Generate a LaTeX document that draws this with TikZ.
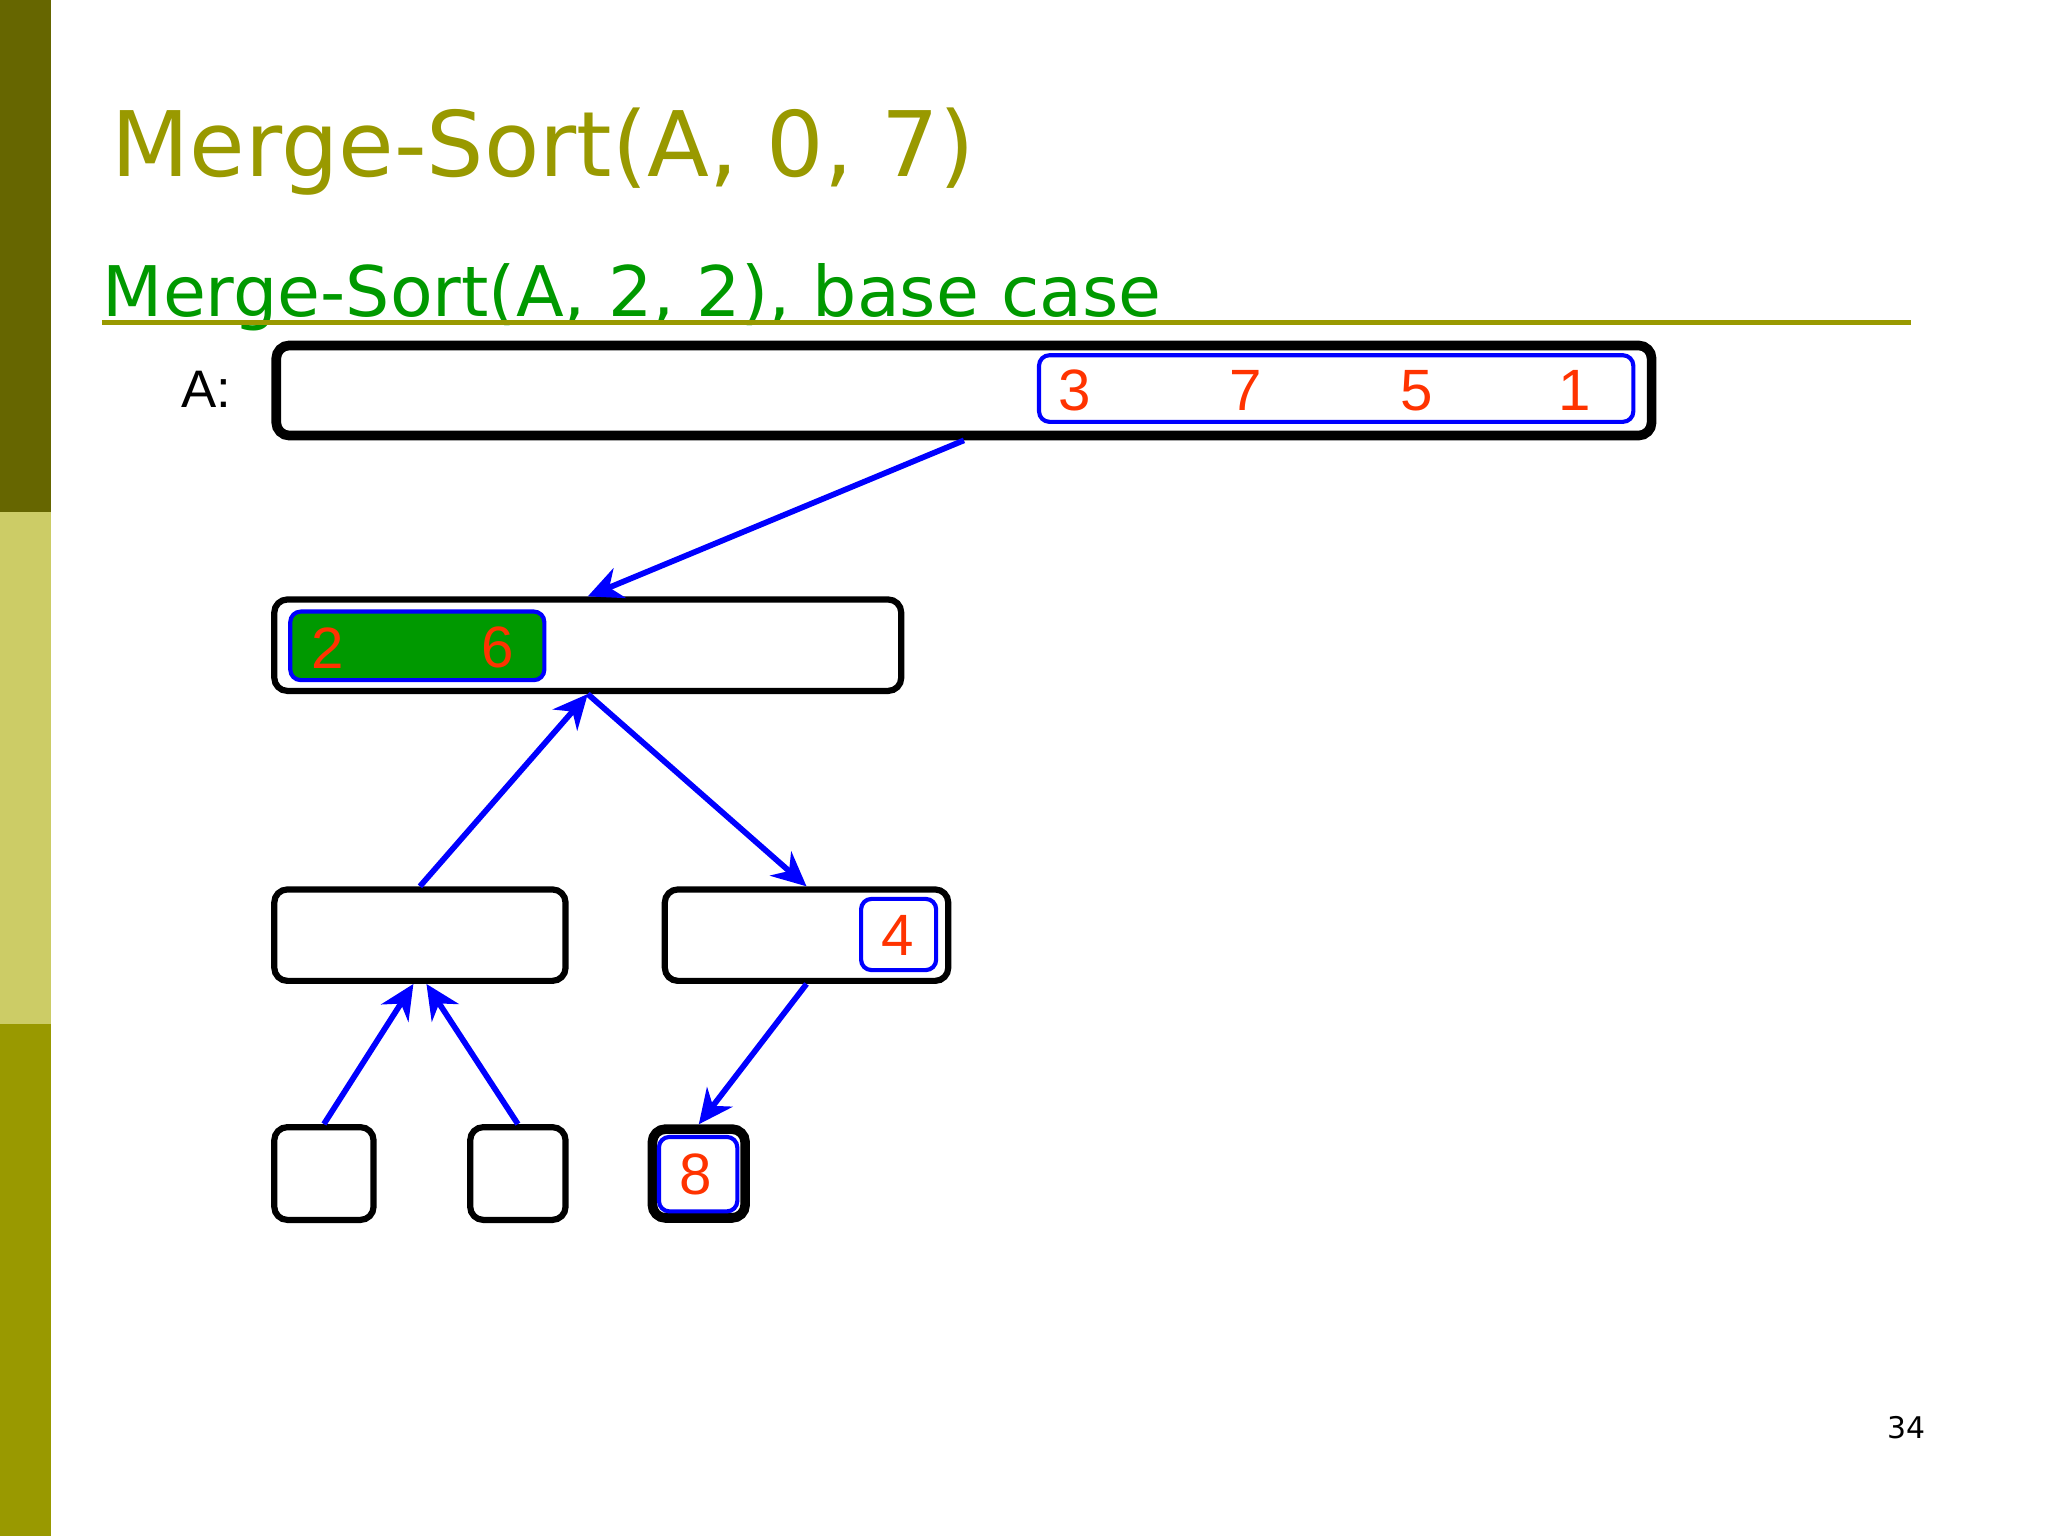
\documentclass[tikz,border=0pt]{standalone}
\usepackage{fontspec}
\setmainfont{DejaVu Sans}
\newfontfamily\arialfont{Liberation Sans}
\usetikzlibrary{arrows.meta}
\definecolor{barDark}{HTML}{666600}
\definecolor{barLight}{HTML}{CCCC66}
\definecolor{barMid}{HTML}{999900}
\definecolor{subGreen}{HTML}{009900}
\definecolor{numRed}{HTML}{FF3300}

\begin{document}
\begin{tikzpicture}[
  cell/.style={rectangle, draw, rounded corners=1mm, line width=1.35pt, inner sep=0pt},
  part/.style={rectangle, draw=blue, rounded corners=0.8mm, line width=0.9pt, inner sep=0pt},
  num/.style={font=\arialfont\fontsize{12.7}{14}\selectfont, text=numRed, inner sep=0pt},
  arrow/.style={-{Stealth[length=7.5pt, width=7pt]}, blue, line width=1.25pt}
]
  \useasboundingbox (0,0) rectangle (15.68,11.76);

  % Seitenleiste
  \fill[barMid] (0,0) rectangle (0.39,3.92);
  \fill[barLight] (0,3.92) rectangle (0.39,7.84);
  \fill[barDark] (0,7.84) rectangle (0.39,11.76);

  % Titel
  \node[anchor=base west, inner sep=0pt, text=barMid, font=\fontsize{19.7}{24}\selectfont]
    (title) at (0.85,10.41) {Merge-Sort(A, 0, 7)};
  \node[anchor=base west, inner sep=0pt, text=subGreen, font=\fontsize{15.2}{18}\selectfont]
    (subtitle) at (0.78,9.34) {Merge-Sort(A, 2, 2), base case};
  \draw[barMid, line width=0.95pt] (0.78,9.29) -- (14.63,9.29);

  % Ebene 0
  \node[inner sep=0pt, font=\arialfont\fontsize{11.5}{14}\selectfont] (alabel) at (1.58,8.78) {A:};
  \node[cell, line width=2.1pt, minimum width=10.53cm, minimum height=0.69cm] (arr) at (7.38,8.77) {};
  \node[part, minimum width=4.55cm, minimum height=0.51cm] (arrR) at (10.23,8.785) {};
  \node[num] (n3) at (8.23,8.77) {3};
  \node[num] (n7) at (9.54,8.77) {7};
  \node[num] (n5) at (10.85,8.77) {5};
  \node[num] (n1) at (12.06,8.77) {1};

  % Ebene 1
  \node[cell, minimum width=4.80cm, minimum height=0.70cm] (lvA) at (4.50,6.82) {};
  \node[part, fill=subGreen, minimum width=1.945cm, minimum height=0.525cm] (lvAL) at (3.195,6.815) {};
  \node[num] (n2) at (2.51,6.80) {2};
  \node[num] (n6) at (3.81,6.80) {6};

  % Ebene 2
  \node[cell, minimum width=2.23cm, minimum height=0.70cm] (lvB) at (3.215,4.60) {};
  \node[cell, minimum width=2.17cm, minimum height=0.70cm] (lvC) at (6.175,4.60) {};
  \node[part, minimum width=0.575cm, minimum height=0.545cm] (lvCR) at (6.88,4.605) {};
  \node[num] (n4) at (6.87,4.60) {4};

  % Ebene 3
  \node[cell, minimum width=0.76cm, minimum height=0.71cm] (lvD) at (2.48,2.775) {};
  \node[cell, minimum width=0.73cm, minimum height=0.71cm] (lvE) at (3.965,2.775) {};
  \node[cell, line width=2.1pt, minimum width=0.71cm, minimum height=0.68cm] (lvF) at (5.35,2.775) {};
  \node[part, minimum width=0.6cm, minimum height=0.57cm] (lvFR) at (5.345,2.77) {};
  \node[num] (n8) at (5.33,2.77) {8};

  % Pfeile
  \draw[arrow] (arr.south) -- (lvA.north);
  \draw[arrow] (lvB.north) -- (lvA.south);
  \draw[arrow] (lvA.south) -- (lvC.north);
  \draw[arrow] (lvD.north) -- ([xshift=-0.5mm]lvB.south);
  \draw[arrow] (lvE.north) -- ([xshift=0.5mm]lvB.south);
  \draw[arrow] (lvC.south) -- (lvF.north);

  % Seitenzahl
  \node[inner sep=0pt, font=\fontsize{6.5}{8}\selectfont] (page) at (14.60,0.83) {34};
\end{tikzpicture}
\end{document}
